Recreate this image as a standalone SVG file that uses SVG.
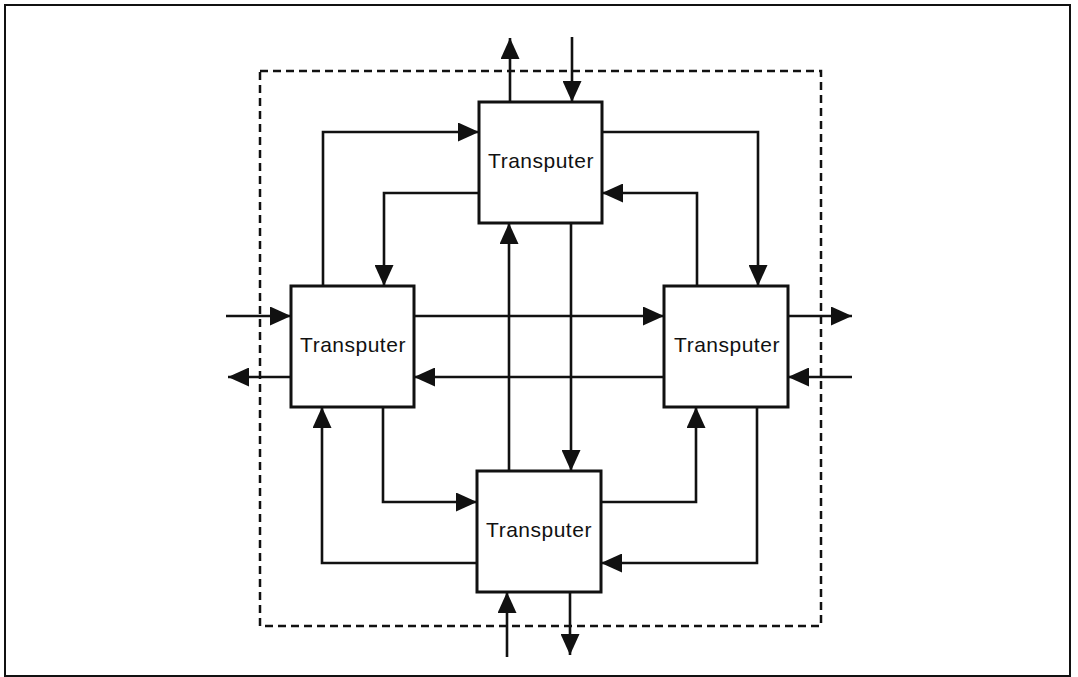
<svg xmlns="http://www.w3.org/2000/svg" width="1078" height="677" viewBox="0 0 1078 677">
<style>
.frame{fill:none;stroke:#111;stroke-width:2}
.dash{fill:none;stroke:#111;stroke-width:2.5;stroke-dasharray:8 5}
.node rect{fill:#fff;stroke:#111;stroke-width:3}
.node text{font-family:"Liberation Sans",Arial,sans-serif;font-size:21px;letter-spacing:0.5px;text-anchor:middle;fill:#111}
.conn path{fill:none;stroke:#111;stroke-width:2.6;marker-end:url(#ah)}
</style>
<defs>
<marker id="ah" markerUnits="userSpaceOnUse" markerWidth="21" markerHeight="19" viewBox="0 0 21 19" refX="21" refY="9.5" orient="auto">
<path d="M0,0 L21,9.5 L0,19 z" fill="#111"/>
</marker>
</defs>
<rect width="1078" height="677" fill="#fff"/>
<rect class="frame" x="5" y="5" width="1065" height="671"/>
<rect class="dash" x="260" y="71" width="561" height="555"/>
<g id="node-top" class="node"><rect x="479" y="102" width="123" height="121"/><text x="541" y="168">Transputer</text></g>
<g id="node-left" class="node"><rect x="291" y="286" width="123" height="121"/><text x="353" y="352">Transputer</text></g>
<g id="node-right" class="node"><rect x="664" y="286" width="124" height="121"/><text x="727" y="352">Transputer</text></g>
<g id="node-bottom" class="node"><rect x="477" y="471" width="124" height="121"/><text x="539" y="537">Transputer</text></g>
<g id="connectors" class="conn">
<path d="M510,102 V38"/>
<path d="M572,37 V102"/>
<path d="M323,286 V132 H479"/>
<path d="M602,132 H758 V286"/>
<path d="M479,193 H384 V286"/>
<path d="M697,286 V193 H602"/>
<path d="M509,471 V223"/>
<path d="M571,223 V471"/>
<path d="M226,316 H291"/>
<path d="M291,377 H228"/>
<path d="M414,316 H664"/>
<path d="M664,377 H414"/>
<path d="M477,563 H322 V407"/>
<path d="M383,407 V502 H477"/>
<path d="M788,316 H852"/>
<path d="M852,377 H788"/>
<path d="M601,502 H696 V407"/>
<path d="M757,407 V563 H601"/>
<path d="M507,657 V592"/>
<path d="M570,592 V655"/>
</g>
</svg>
